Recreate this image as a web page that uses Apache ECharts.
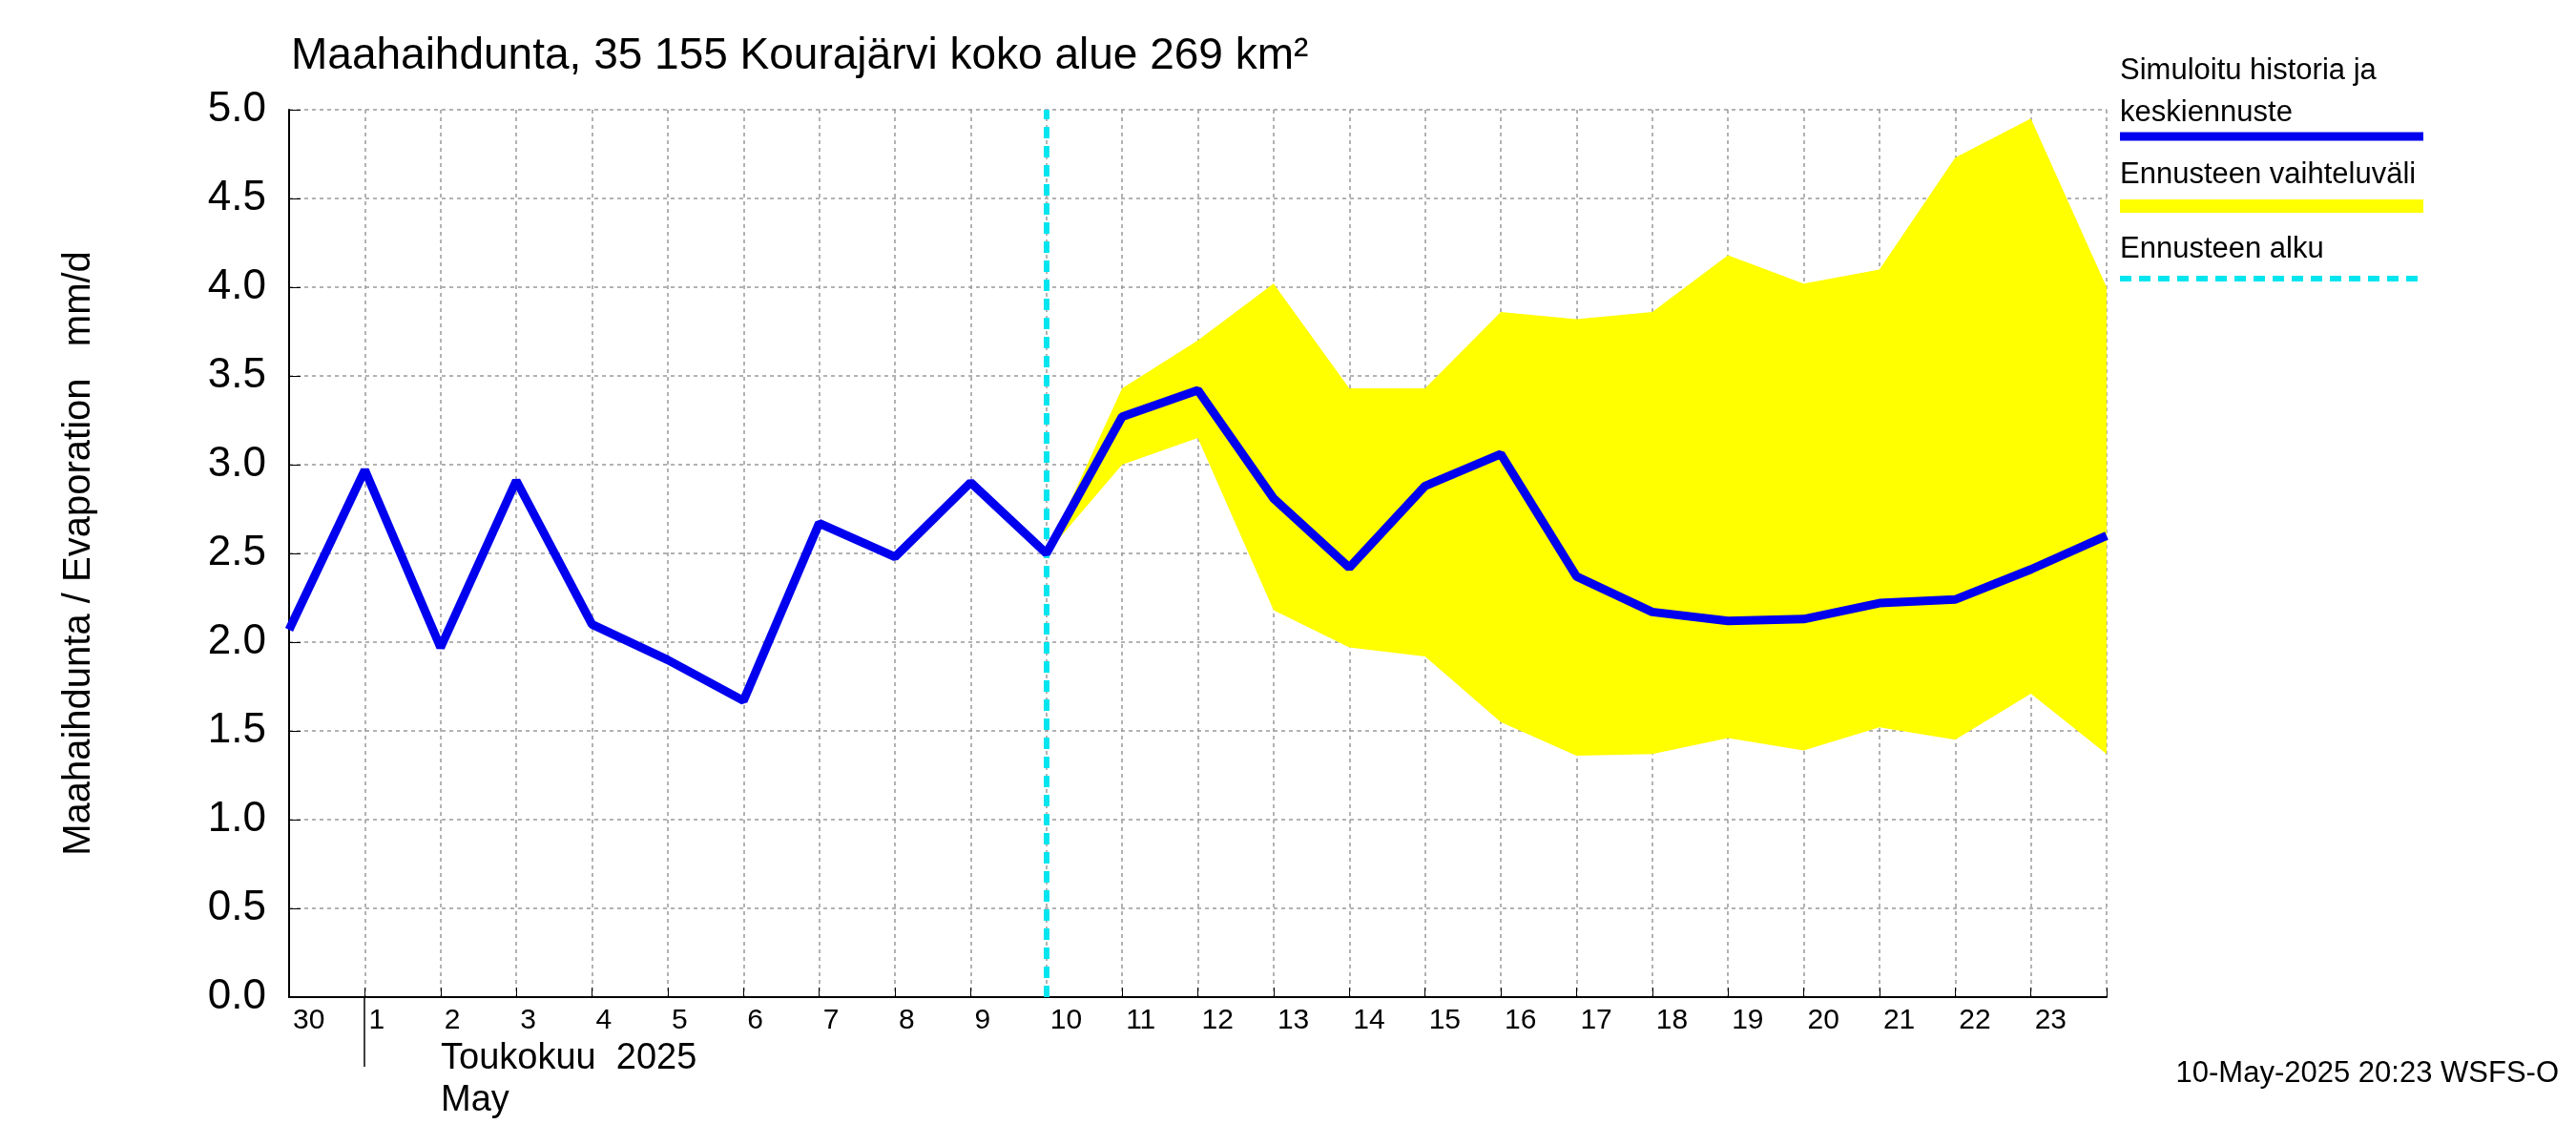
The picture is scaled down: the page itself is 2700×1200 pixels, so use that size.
<!DOCTYPE html>
<html><head><meta charset="utf-8">
<script src="https://cdn.jsdelivr.net/npm/echarts@6/dist/echarts.min.js"></script>
<style>html,body{margin:0;background:#fff}#c{width:2700px;height:1200px}</style></head>
<body><div id="c"></div>
<script>
const dayLabels = ['30','1','2','3','4','5','6','7','8','9','10','11','12','13','14','15','16','17','18','19','20','21','22','23',''];
const simValues = [2.07,2.97,1.97,2.91,2.10,1.90,1.67,2.67,2.48,2.90,2.50,3.27,3.42,2.81,2.42,2.88,3.06,2.37,2.17,2.12,2.13,2.22,2.24,2.41,2.60];
const bandStart = 10;
const bandUpper = [2.50,3.43,3.70,4.02,3.43,3.43,3.86,3.82,3.86,4.18,4.02,4.10,4.73,4.95,4.00];
const bandLower = [2.50,3.00,3.15,2.18,1.97,1.92,1.55,1.36,1.37,1.46,1.39,1.52,1.45,1.71,1.37];
const forecastStart = 10;

const simData = simValues.map((v,i)=>[i,v]);
const bandData = bandUpper.map((v,i)=>[i+bandStart,v,bandLower[i]]);

const chart = echarts.init(document.getElementById('c'));
const F = 'Liberation Sans, Arial, sans-serif';
chart.setOption({
  animation:false,
  grid:{left:303,right:492,top:115,bottom:155},
  xAxis:{type:'value',min:0,max:24,interval:1,
    axisLine:{lineStyle:{color:'#000',width:2}},
    axisTick:{show:true,length:-10,lineStyle:{color:'#000'}},
    splitLine:{show:true,lineStyle:{color:'#999',type:[4,4],width:1.5}},
    axisLabel:{formatter:v=>dayLabels[v]||'',fontSize:30,color:'#000',fontFamily:F,align:'left',padding:[0,0,0,4],margin:10}},
  yAxis:{type:'value',min:0,max:5,interval:0.5,
    name:'Maahaihdunta / Evaporation   mm/d',nameLocation:'middle',nameGap:200,nameRotate:90,
    nameTextStyle:{fontSize:40,color:'#000',fontFamily:F},
    axisLine:{show:true,lineStyle:{color:'#000',width:2}},
    axisTick:{show:true,length:-12,lineStyle:{color:'#000'}},
    splitLine:{show:true,lineStyle:{color:'#999',type:[4,4],width:1.5}},
    axisLabel:{formatter:v=>v.toFixed(1),fontSize:44,color:'#000',fontFamily:F,margin:24}},
  series:[
    {type:'custom',silent:true,z:1,data:bandData,
      renderItem:(params,api)=>{
        if(params.dataIndex!==0) return;
        const up = bandData.map(d=>api.coord([d[0],d[1]]));
        const lo = bandData.map(d=>api.coord([d[0],d[2]])).reverse();
        return {type:'polygon',shape:{points:up.concat(lo)},style:{fill:'#ffff00'}};
      }},
    {type:'line',data:simData,symbol:'none',lineStyle:{color:'#0000ee',width:9},z:5,
      markLine:{symbol:'none',silent:true,label:{show:false},lineStyle:{color:'#00e5ee',type:[12,8],width:6},data:[{xAxis:forecastStart}]}}
  ],
  graphic:[
    {type:'text',left:305,top:36,style:{text:'Maahaihdunta, 35 155 Kourajärvi koko alue 269 km²',fontSize:46,fill:'#000',fontFamily:F}},
    {type:'line',shape:{x1:382,y1:1045,x2:382,y2:1118},style:{stroke:'#000',lineWidth:1.5}},
    {type:'text',left:462,top:1088,style:{text:'Toukokuu  2025\nMay',fontSize:38,lineHeight:44,fill:'#000',fontFamily:F}},
    {type:'text',left:2222,top:52,style:{text:'Simuloitu historia ja\nkeskiennuste',fontSize:31,lineHeight:44,fill:'#000',fontFamily:F}},
    {type:'line',shape:{x1:2222,y1:143,x2:2540,y2:143},style:{stroke:'#0000ee',lineWidth:9}},
    {type:'text',left:2222,top:168,style:{text:'Ennusteen vaihteluväli',fontSize:31,fill:'#000',fontFamily:F}},
    {type:'line',shape:{x1:2222,y1:216,x2:2540,y2:216},style:{stroke:'#ffff00',lineWidth:14}},
    {type:'text',left:2222,top:246,style:{text:'Ennusteen alku',fontSize:31,fill:'#000',fontFamily:F}},
    {type:'line',shape:{x1:2222,y1:292,x2:2540,y2:292},style:{stroke:'#00e5ee',lineWidth:6,lineDash:[12,8]}},
    {type:'text',right:18,top:1110,style:{text:'10-May-2025 20:23 WSFS-O',fontSize:31,fill:'#000',fontFamily:F}}
  ]
});
</script></body></html>
